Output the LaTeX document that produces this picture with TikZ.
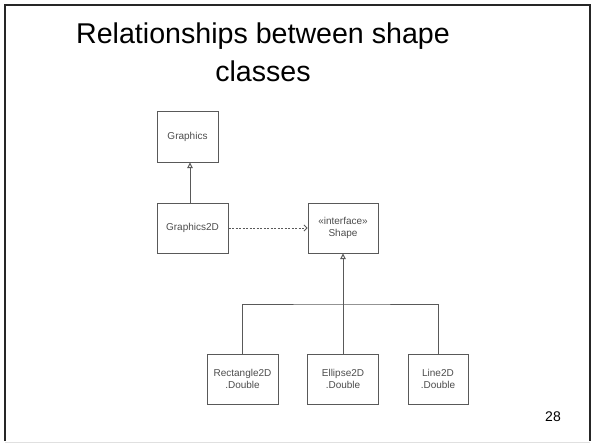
\documentclass[tikz,border=0pt]{standalone}
\usepackage{fontspec}
\setmainfont{Liberation Sans}
\usetikzlibrary{arrows.meta}
\tikzstyle{cls}=[draw=black!65,line width=1pt,text=black!70,font=\fontsize{10}{11.5}\selectfont,align=center,minimum height=50pt,inner sep=0pt]
\tikzstyle{inherit}=[draw=black!65,line width=1pt,-{Triangle[open,length=5.5pt,width=5.5pt]}]
\tikzstyle{uses}=[draw=black!65,line width=0.8pt,dash pattern=on 2pt off 1.5pt,-{Straight Barb[length=3pt,width=6pt]}]

\begin{document}
\begin{tikzpicture}[x=1pt,y=-1pt]
      \useasboundingbox (0,0) rectangle (595,444);
      \draw[line width=2pt,black!85] (5,441) -- (5,5) -- (590,5) -- (590,441);
      \draw[line width=1pt,black!12] (5,442) -- (590,442);
      \node[font=\fontsize{28.6}{38}\selectfont,align=center] (title) at (263,52) {Relationships between shape\\classes};
      \node[font=\fontsize{14}{16}\selectfont] (page) at (553,417) {28};
      \node[cls,minimum width=61pt] (gr) at (187.5,137) {Graphics};
      \node[cls,minimum width=71pt] (g2d) at (192.5,228) {Graphics2D};
      \node[cls,minimum width=70pt] (shape) at (343,228) {«interface»\\Shape};
      \node[cls,minimum width=71pt] (rect) at (242.5,379) {Rectangle2D\\.Double};
      \node[cls,minimum width=71pt] (ell) at (343,379) {Ellipse2D\\.Double};
      \node[cls,minimum width=60pt] (line) at (438,379) {Line2D\\.Double};
      \coordinate (bus) at (343,304);
      \draw[inherit] ([xshift=-2.5pt]g2d.north) -- ([xshift=2.5pt]gr.south);
      \draw[uses] (g2d) -- (shape);
      \draw[draw=black!65,line width=1pt] (rect.north) |- (bus) -| (line.north);
      \draw[inherit] (ell.north) -- (shape.south);
    \end{tikzpicture}
\end{document}
